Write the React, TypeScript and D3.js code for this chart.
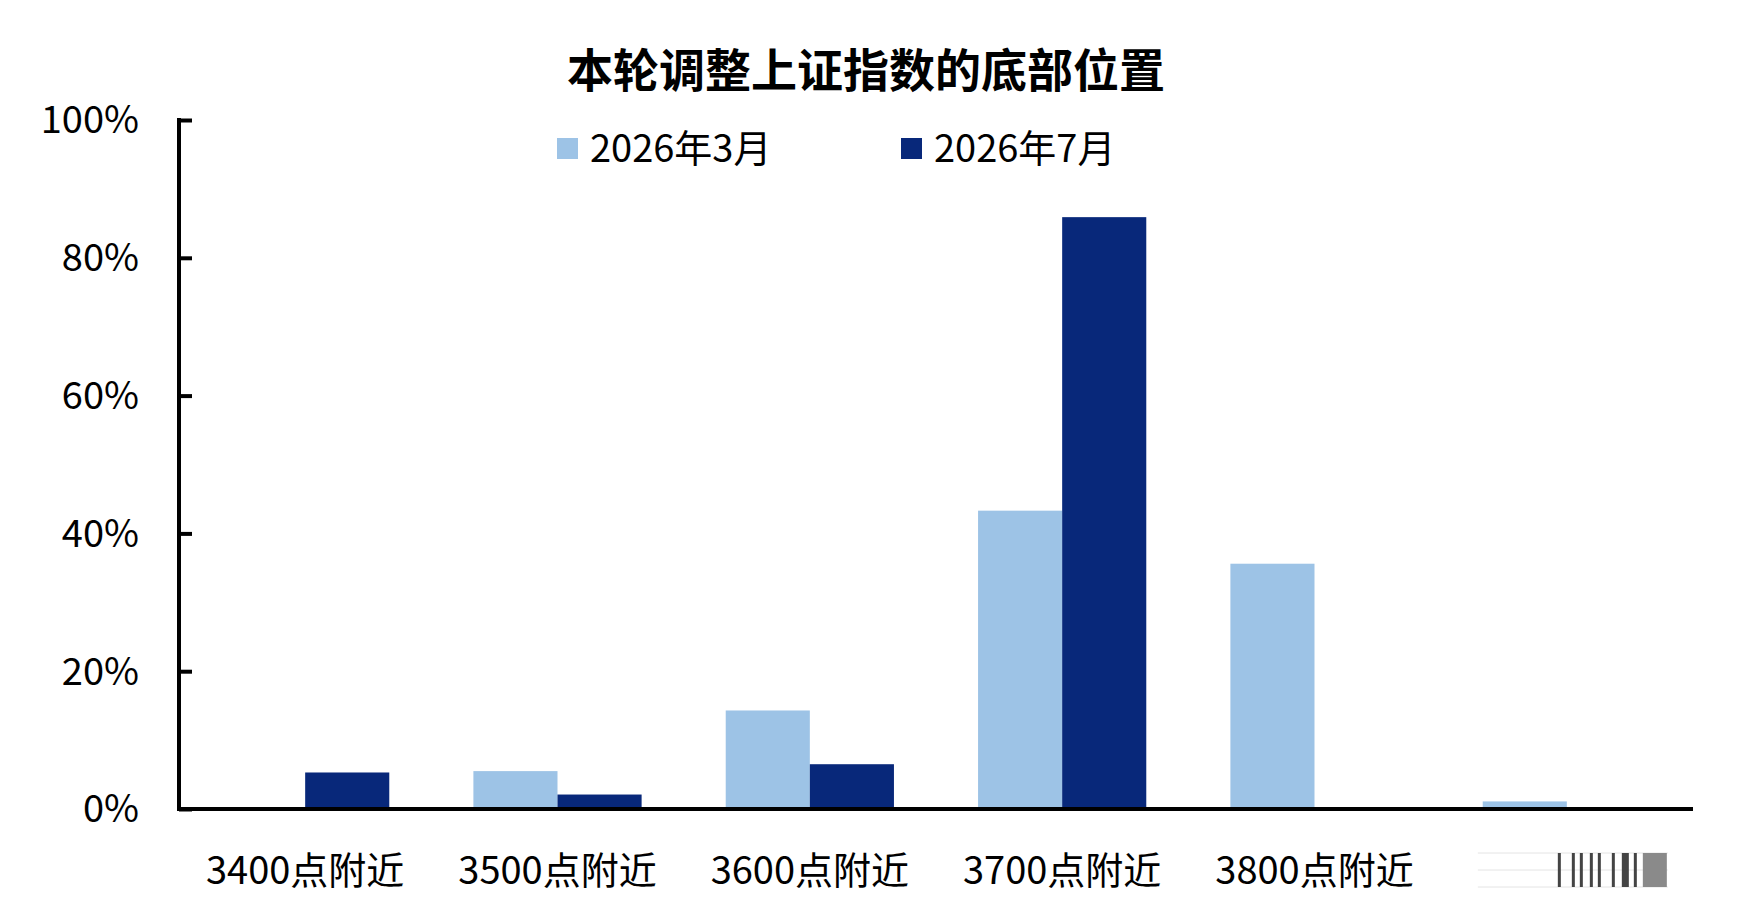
// @ts-nocheck
import React, { useEffect, useRef } from 'react';
import * as d3 from 'd3';

const width = 1763, height = 902;

const title = "本轮调整上证指数的底部位置";
const categories = ["3400点附近", "3500点附近", "3600点附近", "3700点附近", "3800点附近", ""];
const seriesNames = ["2026年3月", "2026年7月"];
const march = [0, 5.5, 14.3, 43.3, 35.6, 1.1];
const july = [5.3, 2.1, 6.5, 85.9, 0, 0];
const yTicks = [0, 20, 40, 60, 80, 100];

const colors = ["#9dc3e6", "#08287a"];
const font = "'Noto Sans CJK SC', 'Noto Sans', sans-serif";

const margin = { top: 120, right: 70, bottom: 93, left: 179 };

function drawChart(ref) {
    d3.select(ref.current).selectAll("*").remove();

    const svg = d3.select(ref.current).append("svg")
        .attr("width", width)
        .attr("height", height)
        .style("position", "absolute")
        .style("left", 0)
        .style("top", 0)
        .style("background", "#fff")
        .style("font-family", font);

    const x = d3.scaleBand()
        .domain(categories.map((c, i) => i))
        .range([margin.left, width - margin.right])
        .paddingInner(1 / 3)
        .paddingOuter(1 / 6);

    const x1 = d3.scaleBand()
        .domain([0, 1])
        .range([0, x.bandwidth()]);

    const y = d3.scaleLinear()
        .domain([0, 100])
        .range([height - margin.bottom, margin.top]);

    /* Title */
    svg.append("text")
        .attr("x", 866)
        .attr("y", 87)
        .attr("text-anchor", "middle")
        .style("font-size", "46px")
        .style("font-weight", 700)
        .text(title);

    /* Bars */
    const rows = categories.map((c, i) => [march[i], july[i]]);
    svg.append("g")
        .selectAll("g")
        .data(rows)
        .join("g")
        .attr("transform", (d, i) => `translate(${x(i)},0)`)
        .selectAll("rect")
        .data(d => d)
        .join("rect")
        .attr("x", (d, j) => x1(j))
        .attr("width", x1.bandwidth())
        .attr("y", d => y(d))
        .attr("height", d => y(0) - y(d))
        .attr("fill", (d, j) => colors[j]);

    /* Y axis */
    const yAxis = svg.append("g")
        .attr("transform", `translate(${margin.left},0)`)
        .call(d3.axisRight(y).tickValues(yTicks).tickSize(13).tickFormat(""));
    yAxis.select(".domain").remove();
    yAxis.selectAll("line").attr("stroke", "#000").attr("stroke-width", 4);
    svg.append("line")
        .attr("x1", margin.left).attr("x2", margin.left)
        .attr("y1", y(100) - 2).attr("y2", y(0) + 2)
        .attr("stroke", "#000").attr("stroke-width", 4);

    svg.append("g")
        .selectAll("text")
        .data(yTicks)
        .join("text")
        .attr("x", margin.left - 40)
        .attr("y", d => y(d))
        .attr("dy", "0.35em")
        .attr("text-anchor", "end")
        .style("font-size", "38px")
        .text(d => `${d}%`);

    /* X axis */
    svg.append("line")
        .attr("x1", margin.left - 2).attr("x2", width - margin.right)
        .attr("y1", y(0)).attr("y2", y(0))
        .attr("stroke", "#000").attr("stroke-width", 4);

    svg.append("g")
        .selectAll("text")
        .data(categories)
        .join("text")
        .attr("x", (d, i) => x(i) + x.bandwidth() / 2)
        .attr("y", y(0) + 75)
        .attr("text-anchor", "middle")
        .style("font-size", "38px")
        .text(d => d);

    /* smeared last label, drawn as strokes */
    const smear = [0, 14, 22, 32, 40, 54, 64, 76];
    const sx = x(5) + x.bandwidth() / 2 - 9;
    const sy = y(0) + 44;
    svg.append("g")
        .selectAll("line")
        .data([0, 17, 34])
        .join("line")
        .attr("x1", sx - 80).attr("x2", sx + 110)
        .attr("y1", d => sy + d).attr("y2", d => sy + d)
        .attr("stroke", "#e4e4e4").attr("stroke-width", 1);
    svg.append("g")
        .selectAll("rect")
        .data(smear)
        .join("rect")
        .attr("x", d => sx + d)
        .attr("y", sy)
        .attr("width", (d, i) => i === 6 ? 7 : 3)
        .attr("height", 34)
        .attr("fill", "#444");
    svg.append("rect")
        .attr("x", sx + 85).attr("y", sy)
        .attr("width", 24).attr("height", 34)
        .attr("fill", "#8a8a8a");

    /* Legend */
    const legendX = [557, 901];
    const legend = svg.append("g")
        .selectAll("g")
        .data(seriesNames)
        .join("g")
        .attr("transform", (d, i) => `translate(${legendX[i]},149)`);
    legend.append("rect")
        .attr("x", 0).attr("y", -11)
        .attr("width", 21).attr("height", 21)
        .attr("fill", (d, i) => colors[i]);
    legend.append("text")
        .attr("x", 33)
        .attr("dy", "0.35em")
        .style("font-size", "38px")
        .text(d => d);
}

export default function App() {
    const ref = useRef(null);
    useEffect(() => { drawChart(ref); }, []);
    return <div ref={ref} />;
}
